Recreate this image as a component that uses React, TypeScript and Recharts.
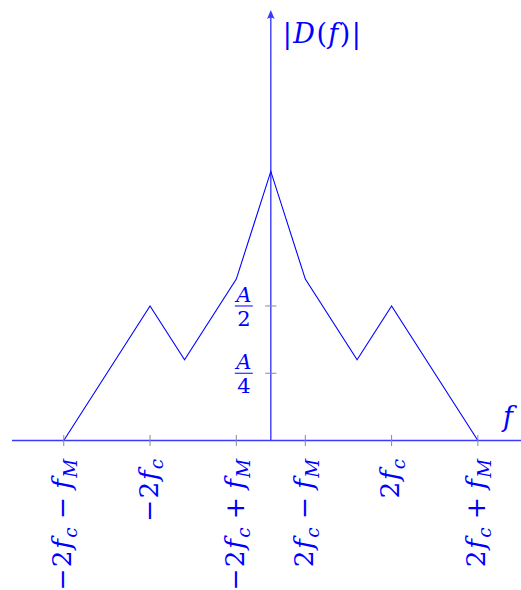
import React from 'react';
import { LineChart, Line, XAxis, YAxis, ReferenceLine, ReferenceDot } from 'recharts';

// Spectrum magnitude |D(f)| sampled at its break points (A = 1, fM = 1, 2fc = 1.4)
const freqs = [-2.4, -1.4, -1.0, -0.4, 0, 0.4, 1.0, 1.4, 2.4];
const magnitude = [0, 0.5, 0.3, 0.6, 1.0, 0.6, 0.3, 0.5, 0];

const xTicks = [-2.4, -1.4, -0.4, 0.4, 1.4, 2.4];
const xTickLabels = ['−2f_c − f_M', '−2f_c', '−2f_c + f_M', '2f_c − f_M', '2f_c', '2f_c + f_M'];

const yTicks = [0.25, 0.5];
const yTickNumerators = ['A', 'A'];
const yTickDenominators = ['4', '2'];

const xDomain = [-3, 2.9];
const yDomain = [0, 1.6];

const yAxisTitle = '|D(f)|';
const xAxisTitle = 'f';

const data = freqs.map((f, i) => ({ f, d: magnitude[i] }));

const BLUE = '#0000ff';
const AXIS_BLUE = '#3a3aff';
const TICK_GRAY = '#8a8a8a';
const FONT = 'DejaVu Serif, Liberation Serif, serif';
const TICK_FS = 26.5;
const TITLE_FS = 27;

type Part = { text: string; italic: boolean; sub: boolean; op: boolean };

// Tiny math-ish parser: letters italic, "_x" subscript, lone tokens like "+"/"−" are spaced operators
function parseMath(s: string): Part[] {
  const parts: Part[] = [];
  const tokens = s.split(' ');
  tokens.forEach((tok) => {
    if (tok === '+' || tok === '−') {
      parts.push({ text: tok, italic: false, sub: false, op: true });
      return;
    }
    for (let i = 0; i < tok.length; i++) {
      const ch = tok[i];
      if (ch === '_' && i + 1 < tok.length) {
        const c = tok[i + 1];
        parts.push({ text: c, italic: /[A-Za-z]/.test(c), sub: true, op: false });
        i++;
      } else {
        parts.push({ text: ch, italic: /[A-Za-z]/.test(ch), sub: false, op: false });
      }
    }
  });
  return parts;
}

function renderMath(s: string, fs: number) {
  const parts = parseMath(s);
  const subShift = fs * 0.22;
  const opSpace = fs * 0.26;
  let shifted = false;
  let pendingDx = 0;
  return parts.map((p, i) => {
    let dy = 0;
    if (p.sub && !shifted) {
      dy = subShift;
      shifted = true;
    } else if (!p.sub && shifted) {
      dy = -subShift;
      shifted = false;
    }
    let dx = pendingDx;
    pendingDx = 0;
    if (p.op) {
      dx += opSpace;
      pendingDx = opSpace;
    }
    return (
      <tspan
        key={i}
        dx={dx || undefined}
        dy={dy || undefined}
        fontStyle={p.italic ? 'italic' : 'normal'}
        fontSize={p.sub ? fs * 0.7 : fs}
      >
        {p.text}
      </tspan>
    );
  });
}

const XTick = (props: any) => {
  const { x, y, payload } = props;
  const idx = xTicks.indexOf(payload.value);
  const label = idx >= 0 ? xTickLabels[idx] : '';
  return (
    <g>
      <line x1={x} x2={x} y1={y - 5.5} y2={y + 5.5} stroke={TICK_GRAY} strokeWidth={1} />
      <text
        transform={`translate(${x + 7.5},${y + 17}) rotate(-90)`}
        textAnchor="end"
        fill={BLUE}
        fontFamily={FONT}
        fontSize={TICK_FS}
        letterSpacing={1.3}
      >
        {renderMath(label, TICK_FS)}
      </text>
    </g>
  );
};

const VerticalAxis = (props: any) => {
  const { x1, y1, x2, y2 } = props;
  const x = (x1 + x2) / 2;
  const top = Math.min(y1, y2);
  const bottom = Math.max(y1, y2);
  return (
    <g>
      <line x1={x} x2={x} y1={bottom} y2={top + 5} stroke={AXIS_BLUE} strokeWidth={1.4} />
      <path
        d={`M ${x} ${top} L ${x - 3.8} ${top + 9} Q ${x} ${top + 6.5} ${x + 3.8} ${top + 9} Z`}
        fill={AXIS_BLUE}
      />
    </g>
  );
};

const makeFraction = (num: string, den: string) => (props: any) => {
  const { cx, cy } = props;
  const fx = cx - 27;
  return (
    <g fill={BLUE} fontFamily={FONT} fontSize={21}>
      <text x={fx} y={cy - 4} textAnchor="middle" fontStyle="italic">
        {num}
      </text>
      <line x1={fx - 9} x2={fx + 9} y1={cy} y2={cy} stroke={BLUE} strokeWidth={1} />
      <text x={fx} y={cy + 20} textAnchor="middle">
        {den}
      </text>
    </g>
  );
};

const YTitle = (props: any) => {
  const { cx, cy } = props;
  return (
    <text
      x={cx + 12}
      y={cy + 33}
      fill={BLUE}
      fontFamily={FONT}
      fontSize={TITLE_FS}
      letterSpacing={1.4}
    >
      {renderMath(yAxisTitle, TITLE_FS)}
    </text>
  );
};

const XTitle = (props: any) => {
  const { cx, cy } = props;
  return (
    <text x={cx - 18} y={cy - 15} fill={BLUE} fontFamily={FONT} fontSize={TITLE_FS} fontStyle="italic">
      {xAxisTitle}
    </text>
  );
};

export default function App() {
  return (
    <div style={{ position: 'absolute', left: 0, top: 0, width: 521, height: 590, background: '#fff' }}>
      <LineChart width={521} height={590} data={data} margin={{ top: 10, right: 0, bottom: 0, left: 12 }}>
        <XAxis
          dataKey="f"
          type="number"
          domain={xDomain}
          allowDataOverflow
          ticks={xTicks}
          interval={0}
          tickSize={0}
          tickMargin={0}
          tickLine={false}
          tick={XTick}
          height={149.5}
          axisLine={{ stroke: AXIS_BLUE, strokeWidth: 1.4 }}
        />
        <YAxis type="number" domain={yDomain} allowDataOverflow hide />
        <ReferenceLine x={0} stroke={AXIS_BLUE} shape={VerticalAxis} />
        {yTicks.map((v) => (
          <ReferenceLine
            key={`yt-${v}`}
            segment={[
              { x: -0.065, y: v },
              { x: 0.065, y: v },
            ]}
            stroke={TICK_GRAY}
            strokeWidth={1}
          />
        ))}
        {yTicks.map((v, i) => (
          <ReferenceDot
            key={`yl-${v}`}
            x={0}
            y={v}
            r={0}
            shape={makeFraction(yTickNumerators[i], yTickDenominators[i])}
          />
        ))}
        <ReferenceDot x={0} y={yDomain[1]} r={0} shape={YTitle} />
        <ReferenceDot x={xDomain[1]} y={0} r={0} shape={XTitle} />
        <Line
          type="linear"
          dataKey="d"
          stroke={BLUE}
          strokeWidth={1.1}
          dot={false}
          activeDot={false}
          isAnimationActive={false}
        />
      </LineChart>
    </div>
  );
}
